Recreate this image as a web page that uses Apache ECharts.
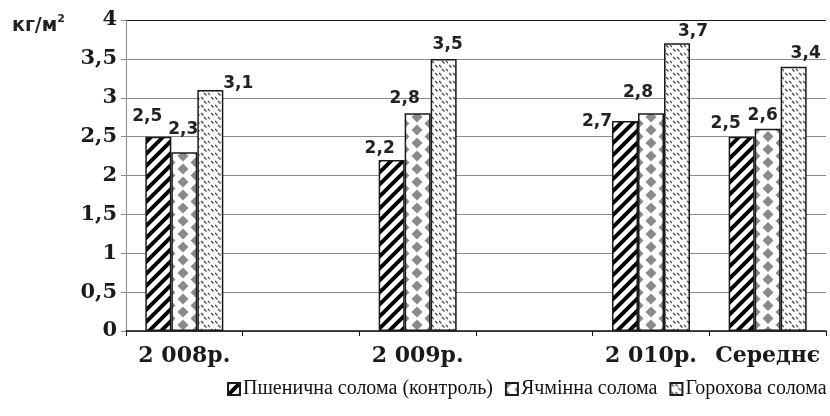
<!DOCTYPE html>
<html>
<head>
<meta charset="utf-8">
<script src="https://cdn.jsdelivr.net/npm/echarts@6/dist/echarts.min.js"></script>
<style>
  html, body { margin: 0; padding: 0; background: #ffffff; }
  #chart { width: 830px; height: 416px; }
</style>
</head>
<body>
<div id="chart"></div>
<script>
// Straw yield by year, kg per square metre (empty slots keep the year groups spaced apart)
const categories = ['2 008р.', '', '2 009р.', '', '2 010р.', 'Середнє'];
const seriesNames = ['Пшенична солома (контроль)', 'Ячмінна солома', 'Горохова солома'];
const wheatStraw = [2.5, '-', 2.2, '-', 2.7, 2.5];
const barleyStraw = [2.3, '-', 2.8, '-', 2.8, 2.6];
const peaStraw = [3.1, '-', 3.5, '-', 3.7, 3.4];
const yMin = 0;
const yMax = 4;
const yStep = 0.5;

// Fill patterns drawn on small tiles
function makeTile(w, h, draw) {
  const c = document.createElement('canvas');
  c.width = w; c.height = h;
  const ctx = c.getContext('2d');
  ctx.fillStyle = '#ffffff';
  ctx.fillRect(0, 0, w, h);
  draw(ctx, w, h);
  return { image: c, repeat: 'repeat' };
}

const stripeFill = makeTile(12, 12, (ctx, w, h) => {
  ctx.strokeStyle = '#000000';
  ctx.lineWidth = 4;
  ctx.beginPath();
  for (const k of [-w, 0, w]) {
    ctx.moveTo(k - 1, h + 1);
    ctx.lineTo(k + w + 1, -1);
  }
  ctx.stroke();
});

// grey diamonds in offset columns, 13 px apart
const diamondFill = makeTile(26, 13, (ctx, w, h) => {
  ctx.fillStyle = '#8a8a8a';
  const x0 = 1;
  const centers = [
    [x0, 0], [x0, h], [x0 + w, 0], [x0 + w, h],
    [x0 + w / 2, h / 2], [x0 - w / 2, h / 2]
  ];
  const rx = 5.5, ry = 5.5;
  for (const [cx, cy] of centers) {
    ctx.beginPath();
    ctx.moveTo(cx - rx, cy);
    ctx.lineTo(cx, cy - ry);
    ctx.lineTo(cx + rx, cy);
    ctx.lineTo(cx, cy + ry);
    ctx.closePath();
    ctx.fill();
  }
});

// short backslash dashes in staggered rows
const dashFill = makeTile(14, 8, (ctx) => {
  ctx.strokeStyle = '#444444';
  ctx.lineWidth = 1.2;
  ctx.beginPath();
  ctx.moveTo(1, 1); ctx.lineTo(3.5, 3.5);
  ctx.moveTo(5, 1); ctx.lineTo(7.5, 3.5);
  ctx.moveTo(8, 5); ctx.lineTo(10.5, 7.5);
  ctx.moveTo(12, 5); ctx.lineTo(14.5, 7.5);
  ctx.stroke();
});

// Per-point nudges for the value labels
const labelShifts = [
  [[-11, -7], null, [-12, 2], null, [-28, 14], [-16, 0]],
  [[-1, -9], null, [-13, -1], null, [-13, -7], [-5, 0]],
  [[28, 7], null, [4, -1], null, [16, 2], [12, 0]]
];

const fmt = v => String(v).replace('.', ',');

function buildSeries(name, values, fill, shifts) {
  return {
    name: name,
    type: 'bar',
    barWidth: 26,
    barGap: '0%',
    itemStyle: { color: fill, borderColor: '#1a1a1a', borderWidth: 1.5 },
    label: {
      show: true,
      position: 'top',
      distance: 5,
      fontFamily: 'DejaVu Sans',
      fontWeight: 'bold',
      fontSize: 17,
      color: '#222222',
      formatter: p => fmt(p.value)
    },
    data: values.map((v, i) => (v === '-' ? '-' : { value: v, label: { offset: shifts[i] } }))
  };
}

const chart = echarts.init(document.getElementById('chart'), null, { renderer: 'canvas' });

const gridColors = [];
for (let v = yMin; v <= yMax + 1e-9; v += yStep) gridColors.push(v >= yMax - 1e-9 ? '#1a1a1a' : '#8c8c8c');

chart.setOption({
  animation: false,
  backgroundColor: '#ffffff',
  title: {
    text: '{a|кг/м}{b|2}',
    left: 7,
    top: 9,
    textStyle: {
      rich: {
        a: { fontFamily: 'DejaVu Sans', fontWeight: 'bold', fontSize: 19, lineHeight: 24, color: '#222222' },
        b: { fontFamily: 'DejaVu Sans', fontWeight: 'bold', fontSize: 11, lineHeight: 24, verticalAlign: 'top', color: '#222222' }
      }
    }
  },
  legend: {
    left: 222,
    top: 374,
    width: 608,
    icon: 'rect',
    itemWidth: 12,
    itemHeight: 12,
    itemGap: 12,
    textStyle: { fontFamily: 'Liberation Serif', fontSize: 20, color: '#111111', padding: [0, 0, 0, -2] },
    data: seriesNames
  },
  grid: { left: 126, right: 4, top: 20, bottom: 85, containLabel: false },
  xAxis: {
    type: 'category',
    data: categories,
    axisLine: { lineStyle: { color: '#111111', width: 1.5 } },
    axisTick: { show: true, length: 5, lineStyle: { color: '#111111' } },
    axisLabel: {
      margin: 14,
      interval: 0,
      fontFamily: 'DejaVu Serif',
      fontWeight: 'bold',
      fontSize: 22,
      color: '#1a1a1a'
    },
    splitLine: { show: false }
  },
  yAxis: {
    type: 'value',
    min: yMin,
    max: yMax,
    interval: yStep,
    axisLine: { show: true, lineStyle: { color: '#8c8c8c', width: 1 } },
    axisTick: { show: true, length: 5, lineStyle: { color: '#8c8c8c' } },
    axisLabel: {
      margin: 9,
      fontFamily: 'DejaVu Serif',
      fontWeight: 'bold',
      fontSize: 21,
      color: '#1a1a1a',
      formatter: v => fmt(v)
    },
    splitLine: { show: true, lineStyle: { color: gridColors, width: 1 } }
  },
  series: [
    buildSeries(seriesNames[0], wheatStraw, stripeFill, labelShifts[0]),
    buildSeries(seriesNames[1], barleyStraw, diamondFill, labelShifts[1]),
    buildSeries(seriesNames[2], peaStraw, dashFill, labelShifts[2])
  ]
});
</script>
</body>
</html>
